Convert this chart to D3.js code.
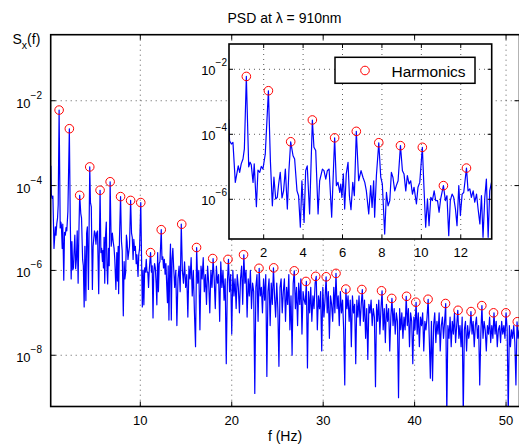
<!DOCTYPE html>
<html><head><meta charset="utf-8">
<script src="https://cdn.jsdelivr.net/npm/d3@7"></script>
<style>
body{margin:0;background:#fff;}
svg{display:block;font-family:"Liberation Sans",Arial,Helvetica,sans-serif;}
</style>
</head><body>
<svg id="chart" width="519" height="446"></svg>
<script>
// ---------------- DATA ----------------
// Low-frequency part, resolved from the inset (Hz, log10 of PSD)
const freqLow = [0.22,0.27,0.36,0.44,0.56,0.65,0.71,0.78,0.86,0.95,
1.02,1.12,1.24,1.31,1.37,1.46,1.52,1.63,1.71,1.80,
1.88,1.96,2.08,2.24,2.34,2.44,2.52,2.61,2.69,2.76,
2.84,2.93,3.01,3.10,3.20,3.28,3.37,3.49,3.57,3.69,
3.77,3.86,3.94,4.05,4.13,4.21,4.33,4.47,4.55,4.64,
4.76,4.84,4.98,5.06,5.15,5.23,5.32,5.45,5.60,5.69,
5.77,5.86,5.91,5.97,6.04,6.11,6.19,6.28,6.35,6.43,
6.52,6.60,6.70,6.82,6.94,7.04,7.13,7.21,7.33,7.43,
7.50,7.58,7.63,7.72,7.84,7.94,8.02,8.14,8.23,8.31,
8.40,8.48,8.56,8.65,8.73,8.82,8.94,9.04,9.12,9.21,
9.29,9.38,9.46,9.55,9.63,9.75,9.83,9.92,10.05,10.14,
10.22,10.31,10.39,10.48,10.56,10.65,10.73,10.82,10.90,10.98,
11.12,11.22,11.30,11.39,11.47,11.56,11.64,11.73,11.81,11.90,
11.98,12.07,12.15,12.29,12.37,12.46,12.54,12.63,12.71,12.80,
12.88,12.97,13.05,13.13,13.22,13.30,13.39,13.47,13.56];
const psdLowExp = [-3.53,-4.20,-4.30,-4.25,-5.48,-5.17,-4.97,-5.17,-4.91,-4.76,
-4.45,-2.22,-5.00,-4.86,-4.94,-5.48,-4.91,-6.23,-5.10,-5.17,
-4.99,-5.07,-4.61,-2.66,-4.81,-6.20,-5.32,-5.99,-5.94,-5.53,
-5.17,-5.96,-5.74,-5.07,-6.30,-5.12,-4.23,-4.66,-4.76,-5.74,
-5.89,-6.86,-5.43,-6.71,-5.12,-4.97,-6.45,-3.56,-4.40,-4.50,
-6.45,-5.43,-5.07,-5.12,-5.38,-5.12,-5.07,-6.55,-4.11,-5.58,
-5.48,-5.79,-5.53,-5.94,-5.22,-6.30,-5.22,-4.86,-5.89,-6.32,
-5.48,-5.89,-3.91,-5.43,-5.12,-5.33,-5.48,-5.74,-6.45,-5.58,
-6.25,-5.43,-6.55,-5.27,-4.26,-5.32,-5.53,-7.07,-5.79,-6.20,
-6.04,-5.17,-5.33,-5.74,-5.58,-5.43,-4.35,-5.12,-5.22,-5.74,
-5.27,-5.53,-5.43,-5.84,-5.63,-6.14,-5.63,-5.48,-4.40,-5.74,
-6.86,-5.99,-6.81,-5.94,-6.04,-5.74,-6.04,-6.04,-6.40,-5.99,
-5.58,-6.04,-5.89,-7.12,-6.04,-5.84,-5.94,-6.30,-6.81,-5.58,
-6.50,-5.84,-5.79,-5.04,-5.74,-5.68,-5.94,-5.74,-6.09,-5.84,
-6.30,-6.76,-5.89,-7.17,-5.94,-5.38,-7.17,-5.74,-5.48];
// High-frequency part, bins from 13.64 Hz every 0.12 Hz (log10 of PSD)
const freqHighStart = 13.64;
const freqHighStep = 0.12;
const psdHighExp = [
-5.9,-6.4,-6.0,-7.3,-6.2,-5.9,-6.5,-4.91,-6.0,-6.3,
-5.8,-6.4,-6.1,-7.1,-5.9,-6.2,-5.7,-6.6,-6.0,-7.0,
-7.8,-5.46,-6.3,-6.0,-7.4,-5.9,-6.2,-5.7,-6.5,-6.1,
-6.8,-5.9,-6.3,-7.0,-6.0,-6.4,-5.72,-6.2,-6.9,-5.9,
-6.3,-6.1,-7.2,-5.8,-6.4,-6.0,-6.7,-6.2,-8.2,-6.3,
-5.74,-6.5,-6.1,-7.5,-6.0,-6.6,-6.2,-6.9,-6.1,-6.4,
-7.0,-6.2,-5.9,-6.8,-5.63,-6.3,-6.0,-7.1,-6.2,-6.6,
-6.0,-6.9,-6.3,-6.5,-8.9,-6.4,-6.1,-7.2,-5.95,-6.6,
-6.4,-7.0,-6.2,-6.7,-6.1,-8.5,-6.5,-6.2,-7.3,-6.3,
-6.8,-5.94,-6.6,-7.1,-6.3,-6.9,-8.26,-6.4,-6.2,-7.0,
-6.5,-6.2,-7.2,-6.4,-6.8,-6.1,-7.4,-6.6,-8.0,-6.3,
-6.01,-6.9,-6.4,-7.3,-6.3,-6.8,-6.2,-7.5,-6.5,-6.7,
-6.8,-6.26,-8.3,-6.5,-7.0,-6.4,-7.2,-6.6,-6.9,-6.3,
-6.14,-7.4,-6.6,-6.9,-6.5,-7.9,-6.4,-7.1,-6.7,-6.15,
-7.0,-6.5,-7.6,-6.6,-6.8,-7.2,-6.4,-7.0,-6.07,-6.9,
-6.6,-7.3,-6.5,-7.0,-6.7,-7.4,-8.7,-6.44,-6.9,-6.6,
-7.2,-6.7,-7.8,-6.6,-7.0,-6.8,-8.2,-6.7,-7.1,-6.6,
-7.3,-6.8,-6.45,-7.2,-6.7,-7.6,-6.9,-8.1,-6.8,-7.0,
-6.7,-7.3,-6.9,-7.1,-8.74,-6.8,-7.2,-6.7,-7.5,-6.9,
-6.48,-7.4,-6.9,-7.7,-6.8,-7.2,-6.9,-7.9,-7.1,-6.66,
-7.3,-6.9,-7.5,-7.0,-7.2,-9.0,-6.9,-7.4,-7.0,-7.6,
-7.1,-7.4,-6.61,-7.3,-6.9,-7.8,-7.0,-7.2,-8.2,-7.1,
-7.4,-6.75,-7.5,-7.0,-7.8,-7.1,-7.3,-7.0,-7.9,-7.2,
-7.4,-7.1,-6.68,-7.6,-8.54,-7.2,-8.6,-7.3,-7.0,-7.7,
-7.2,-7.5,-7.0,-7.9,-7.3,-7.1,-7.6,-7.2,-6.78,-9.4,
-7.3,-7.6,-7.1,-7.8,-7.2,-7.5,-7.0,-7.7,-7.3,-6.94,
-7.6,-7.3,-7.8,-7.1,-9.4,-7.4,-7.2,-7.9,-7.3,-7.6,
-7.4,-6.97,-7.5,-7.2,-7.8,-7.3,-7.1,-7.6,-7.3,-8.7,
-7.5,-6.83,-7.6,-7.2,-7.4,-7.9,-7.3,-7.5,-7.1,-7.7,
-7.3,-7.6,-7.0,-7.5,-7.2,-7.8,-7.4,-7.3,-7.7,-7.2,
-7.5,-7.3,-7.6,-7.0,-7.4,-9.4,-7.3,-7.8,-7.4,-7.6,
-7.3,-7.7,-8.7,-7.21,-7.6,-7.4];
// Harmonic peaks (Hz, log10 of PSD)
const harmonicFreq = [1.12,2.24,3.37,4.47,5.60,6.70,7.84,8.94,10.05,11.12,12.29,
14.53,16.15,17.92,19.59,21.29,22.98,24.59,26.84,28.12,29.18,30.33,31.40,32.48,
34.23,36.38,37.50,39.12,40.13,41.47,43.38,44.75,46.17,47.35,48.63,49.98,51.23];
const harmonicExp = [-2.22,-2.66,-4.23,-3.56,-4.11,-3.91,-4.26,-4.35,-4.40,-5.58,-5.04,
-4.91,-5.46,-5.72,-5.74,-5.63,-5.95,-5.94,-6.01,-6.26,-6.14,-6.15,-6.07,-6.44,
-6.45,-6.48,-6.66,-6.61,-6.75,-6.68,-6.78,-6.94,-6.97,-6.83,-7.00,-7.00,-7.21];
// Ticks
const mainXTicks = [10,20,30,40,50];
const mainYTickExp = [-2,-4,-6,-8];
const insetXTicks = [2,4,6,8,10,12];
const insetYTickExp = [-2,-4,-6];
const titleText = "PSD at \u03bb = 910nm";
const xLabelText = "f (Hz)";
const legendText = "Harmonics";

// ---------------- DRAWING ----------------
const svg = d3.select('#chart');
const series = freqLow.map((f,i)=>({f:f, v:Math.pow(10,psdLowExp[i])}))
  .concat(psdHighExp.map((e,i)=>({f:freqHighStart+i*freqHighStep, v:Math.pow(10,e)})));
const harmonics = harmonicFreq.map((f,i)=>({f:f, v:Math.pow(10,harmonicExp[i])}));

function panel(id, box, xDom, yExpDom, xTicks, yTickExp, o){
  const g = svg.append('g');
  const x = d3.scaleLinear().domain(xDom).range([box.l, box.r]);
  const y = d3.scaleLog().domain([Math.pow(10,yExpDom[0]), Math.pow(10,yExpDom[1])]).range([box.b, box.t]);
  if(o.bg) g.append('rect').attr('x',box.l).attr('y',box.t).attr('width',box.r-box.l).attr('height',box.b-box.t).attr('fill','#fff');
  g.append('clipPath').attr('id',id).append('rect')
    .attr('x',box.l).attr('y',box.t).attr('width',box.r-box.l).attr('height',box.b-box.t);
  // grid
  const grid = g.append('g').attr('stroke','#333').attr('stroke-width',0.8).attr('stroke-dasharray','1,4').attr('fill','none');
  xTicks.forEach(t=>grid.append('line').attr('x1',x(t)).attr('x2',x(t)).attr('y1',box.t).attr('y2',box.b));
  yTickExp.forEach(e=>grid.append('line').attr('x1',box.l).attr('x2',box.r).attr('y1',y(Math.pow(10,e))).attr('y2',y(Math.pow(10,e))));
  // line
  const line = d3.line().x(d=>x(d.f)).y(d=>y(d.v));
  g.append('path').datum(series.filter(d=>d.f>=xDom[0]-0.3 && d.f<=xDom[1]+0.3))
    .attr('clip-path','url(#'+id+')')
    .attr('d',line).attr('fill','none').attr('stroke','#0000ff').attr('stroke-width',o.lw).attr('stroke-linejoin','round');
  // harmonics
  g.append('g').selectAll('circle').data(harmonics.filter(d=>d.f>=xDom[0] && d.f<=xDom[1]))
    .join('circle').attr('cx',d=>x(d.f)).attr('cy',d=>y(d.v)).attr('r',4.3)
    .attr('fill','none').attr('stroke','#ff0000').attr('stroke-width',1);
  // ticks
  const tk = g.append('g').attr('stroke','#000').attr('stroke-width',1);
  xTicks.forEach(t=>{
    tk.append('line').attr('x1',x(t)).attr('x2',x(t)).attr('y1',box.b).attr('y2',box.b-o.tl);
    tk.append('line').attr('x1',x(t)).attr('x2',x(t)).attr('y1',box.t).attr('y2',box.t+o.tl);
  });
  yTickExp.forEach(e=>{
    const yy=y(Math.pow(10,e));
    tk.append('line').attr('x1',box.l).attr('x2',box.l+o.tl).attr('y1',yy).attr('y2',yy);
    tk.append('line').attr('x1',box.r).attr('x2',box.r-o.tl).attr('y1',yy).attr('y2',yy);
  });
  // frame
  g.append('rect').attr('x',box.l).attr('y',box.t).attr('width',box.r-box.l).attr('height',box.b-box.t)
    .attr('fill','none').attr('stroke','#000').attr('stroke-width',o.fw);
  // labels
  xTicks.forEach(t=>g.append('text').attr('x',x(t)).attr('y',o.xlabY).attr('text-anchor','middle')
    .attr('font-size',o.fs).attr('fill','#000').text(t));
  yTickExp.forEach(e=>{
    const tx = g.append('text').attr('x',o.ylabX).attr('y',y(Math.pow(10,e))+o.ylabDy).attr('text-anchor','end')
      .attr('font-size',o.fs).attr('fill','#000');
    tx.append('tspan').text('10');
    tx.append('tspan').attr('font-size',o.sfs).attr('dy',-o.supUp).text('\u2212'+Math.abs(e));
  });
  return {x,y,g};
}

panel('clipMain', {l:50.7, r:519.5, t:34.7, b:406.5}, [0.2, 51.47], [-9.208, -0.443],
  mainXTicks, mainYTickExp, {lw:1.2, tl:5, fw:1.6, fs:13, sfs:10, xlabY:425, ylabX:42, ylabDy:7, supUp:9, bg:false});

panel('clipInset', {l:229, r:491.7, t:44, b:239}, [0.24, 13.57], [-7.222, -1.222],
  insetXTicks, insetYTickExp, {lw:1.2, tl:4, fw:1.6, fs:13, sfs:10, xlabY:256.5, ylabX:227, ylabDy:6, supUp:9, bg:true});

// Legend
const lg = svg.append('g');
lg.append('rect').attr('x',335).attr('y',57.3).attr('width',140).attr('height',26)
  .attr('fill','#fff').attr('stroke','#000').attr('stroke-width',1.5);
lg.append('circle').attr('cx',365).attr('cy',70.5).attr('r',4.3).attr('fill','none').attr('stroke','#ff0000').attr('stroke-width',1);
lg.append('text').attr('x',391.5).attr('y',76.5).attr('font-size',15.5).attr('fill','#000').text(legendText);

// Title & axis labels
svg.append('text').attr('x',284.5).attr('y',22.5).attr('text-anchor','middle').attr('font-size',14).attr('fill','#000').text(titleText);
svg.append('text').attr('x',285).attr('y',441).attr('text-anchor','middle').attr('font-size',14).attr('fill','#000').text(xLabelText);
const yl = svg.append('text').attr('x',12.5).attr('y',44).attr('font-size',14).attr('fill','#000');
yl.append('tspan').text('S');
yl.append('tspan').attr('font-size',10.5).attr('dy',4.5).text('x');
yl.append('tspan').attr('dy',-4.5).text('(f)');
</script>
</body></html>
